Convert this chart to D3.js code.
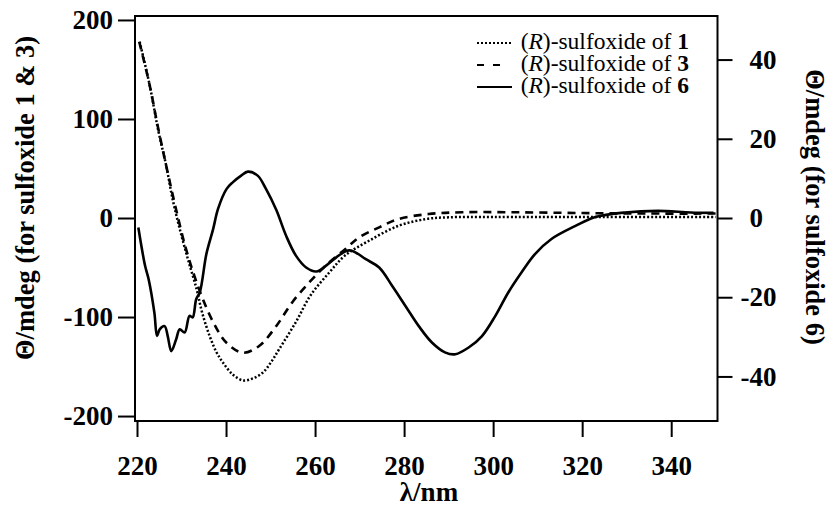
<!DOCTYPE html>
<html>
<head>
<meta charset="utf-8">
<script src="https://cdn.jsdelivr.net/npm/d3@7"></script>
<style>
body { margin: 0; background: #fff; }
svg text { font-family: "Liberation Serif", "Times New Roman", serif; fill: #000; }
</style>
</head>
<body>
<svg id="chart"></svg>
<script>
// CD spectra, wavelength in nm
var wlS1 = [220.6, 222.9, 224.7, 226.6, 228, 229.6, 231.4, 233.4, 234.6, 236.3, 237.8, 239.3, 241.5, 243.8, 246, 248.3, 250.2, 252, 255.7, 259, 263.2, 266.7, 272.1, 278.8, 285, 290, 300, 320, 350];
var thS1 = [178, 133, 90, 52, 19, -11, -41, -72, -95, -119, -135, -146, -158, -164, -162, -156, -145, -132, -105, -78, -55, -38, -23, -7.8, -1, 0.7, 1, 1, 1];

var wlS3 = [220.5, 222.8, 224.7, 226.6, 228.5, 230.8, 233, 234.8, 237.1, 240.1, 243.8, 247.5, 251.3, 254.9, 258.7, 262.4, 266.9, 269.9, 274.4, 278.8, 285.5, 293, 305, 320, 335, 350];
var thS3 = [178, 135, 92, 52, 14, -28, -60, -82, -105, -126, -136, -129, -109, -85, -65, -48, -31, -19.5, -9.4, -1, 4, 5.8, 5.8, 5, 4.5, 4.5];

// sulfoxide 6 is read on the right axis
var wlS6 = [220.3, 221.8, 222.6, 223.9, 224.5, 225.1, 226.2, 226.9, 227.7, 228.8, 229.6, 230.7, 231.8, 232.5, 233.3, 234.1, 235.6, 237.1, 238.2, 240.1, 241.5, 243.4, 244.9, 247.1, 249, 251.3, 253.5, 255.7, 258, 260.3, 262.4, 264.7, 267, 268.4, 271.4, 274.4, 277.3, 280.3, 283.3, 286.3, 289.3, 291.5, 294.5, 297.5, 300.5, 303.4, 306.4, 309.4, 313.1, 318.5, 322.8, 329.6, 337, 344.4, 349.5];
var thS6 = [-2.4, -12, -15.4, -23.9, -29.8, -28.1, -27.3, -29.8, -33.6, -30.6, -28.1, -28.9, -24.7, -25.1, -20.5, -18.8, -9, -2.8, 2.3, 7.3, 9, 10.7, 11.7, 10.7, 7.3, 2, -4.5, -9.5, -12.5, -13.5, -12.1, -10, -8.3, -8.3, -10.4, -12.5, -17.1, -22.2, -27.3, -31.5, -34, -34.4, -32.7, -29.8, -24.7, -18.8, -13.7, -9.1, -5.3, -2, 0.2, 1.4, 1.8, 1.4, 1.3];

var xTicks = [220, 240, 260, 280, 300, 320, 340];
var yLeftTicks = [-200, -100, 0, 100, 200];
var yRightTicks = [-40, -20, 0, 20, 40];
var legendNames = ["1", "3", "6"];

var W = 831, H = 506;
var box = {left: 135, right: 717.5, top: 16, bottom: 421};

var svg = d3.select("#chart").attr("width", W).attr("height", H);

var x = d3.scaleLinear().domain([219.55, 350.4]).range([box.left, box.right]);
var yL = d3.scaleLinear().domain([-205, 204]).range([box.bottom, box.top]);
var yR = d3.scaleLinear().domain([-205 / 4, 204 / 4]).range([box.bottom, box.top]);

// frame
svg.append("rect")
.attr("x", box.left).attr("y", box.top)
.attr("width", box.right - box.left).attr("height", box.bottom - box.top)
.attr("fill", "none").attr("stroke", "#000").attr("stroke-width", 2);

var tickFont = "27px";
// plain hyphen for negatives, like the original figure
var plain = function(d){ return String(d) };

var gx = svg.append("g")
.attr("transform", "translate(0," + box.bottom + ")")
.call(d3.axisBottom(x).tickValues(xTicks).tickFormat(plain).tickSize(16).tickPadding(19).tickSizeOuter(0));

var gl = svg.append("g")
.attr("transform", "translate(" + box.left + ",0)")
.call(d3.axisLeft(yL).tickValues(yLeftTicks).tickFormat(plain).tickSize(17).tickPadding(5).tickSizeOuter(0));

var gr = svg.append("g")
.attr("transform", "translate(" + box.right + ",0)")
.call(d3.axisRight(yR).tickValues(yRightTicks).tickFormat(plain).tickSize(15).tickPadding(17).tickSizeOuter(0));

[gx, gl, gr].forEach(function(g){
g.select(".domain").remove();
g.selectAll(".tick line").attr("stroke", "#000").attr("stroke-width", 2);
g.selectAll(".tick text")
.style("font-size", tickFont)
.style("font-weight", "bold")
.style("font-family", "'Liberation Serif', 'Times New Roman', serif");
});

// right labels: minus sign hangs left of the digits
gr.selectAll(".tick text").attr("x", function(d){ return d < 0 ? 23 : 32 });

// curves
var line = function(yScale){
return d3.line()
.x(function(d){ return x(d[0]) })
.y(function(d){ return yScale(d[1]) })
.curve(d3.curveCatmullRom.alpha(0.5));
};

var plot = svg.append("g");

plot.append("path")
.datum(d3.zip(wlS1, thS1))
.attr("d", line(yL))
.attr("fill", "none").attr("stroke", "#000")
.attr("stroke-width", 2.5).attr("stroke-dasharray", "2,2");

plot.append("path")
.datum(d3.zip(wlS3, thS3))
.attr("d", line(yL))
.attr("fill", "none").attr("stroke", "#000")
.attr("stroke-width", 2.6).attr("stroke-dasharray", "8,6");

plot.append("path")
.datum(d3.zip(wlS6, thS6))
.attr("d", line(yR))
.attr("fill", "none").attr("stroke", "#000")
.attr("stroke-width", 2.6).attr("stroke-linejoin", "round");

// legend
var dashes = ["2,2", "7,9", null];
var legend = svg.append("g");
legendNames.forEach(function(n, i){
var by = 49 + i * 22;
legend.append("line")
.attr("x1", 477).attr("x2", i == 1 ? 500 : 512)
.attr("y1", by - 6).attr("y2", by - 6)
.attr("stroke", "#000").attr("stroke-width", 2.2)
.attr("stroke-dasharray", dashes[i]);
var t = legend.append("text")
.attr("x", 689).attr("y", by)
.attr("text-anchor", "end")
.style("font-size", "23.5px");
t.append("tspan").text("(");
t.append("tspan").style("font-style", "italic").text("R");
t.append("tspan").text(")-sulfoxide of ");
t.append("tspan").style("font-weight", "bold").text(n);
});

// axis titles
svg.append("text")
.attr("transform", "translate(34,198) rotate(-90)")
.attr("text-anchor", "middle")
.style("font-size", "26.5px").style("font-weight", "bold")
.text("Θ/mdeg (for sulfoxide 1 & 3)");

svg.append("text")
.attr("transform", "translate(806,207) rotate(90)")
.attr("text-anchor", "middle")
.style("font-size", "26.5px").style("font-weight", "bold")
.text("Θ/mdeg (for sulfoxide 6)");

svg.append("text")
.attr("x", 429).attr("y", 501)
.attr("text-anchor", "middle")
.style("font-size", "27px").style("font-weight", "bold")
.text("λ/nm");
</script>
</body>
</html>
